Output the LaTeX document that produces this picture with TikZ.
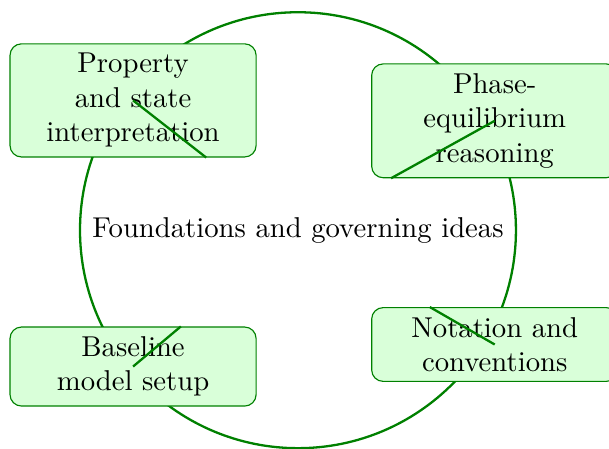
\documentclass[tikz,border=0pt]{standalone}
\usepackage{amsmath}
\usepackage{xcolor}

\begin{document}
\begin{tikzpicture}[topic/.style={draw=green!50!black, fill=green!15, rounded corners, text width=2.78cm, align=center}, link/.style={green!50!black, thick}]
	\useasboundingbox (-3.65,-2.67) rectangle (3.81,2.82);
	\draw[link] (0,0) circle (2.67cm);
	\node (hub) at (0,0) {Foundations and governing ideas};
	\node[topic] (prop) at (-2.02,1.59) {Property\\and state\\interpretation};
	\node[topic] (phase) at (2.41,1.34) {Phase-\\equilibrium\\reasoning};
	\node[topic] (base) at (-2.02,-1.67) {Baseline\\model setup};
	\node[topic] (notat) at (2.41,-1.40) {Notation and\\conventions};
	\draw[link] (prop.center) -- (prop.-38);
	\draw[link] (phase.center) -- (phase.209);
	\draw[link] (base.center) -- (base.40);
	\draw[link] (notat.center) -- (notat.150);
\end{tikzpicture}
\end{document}
